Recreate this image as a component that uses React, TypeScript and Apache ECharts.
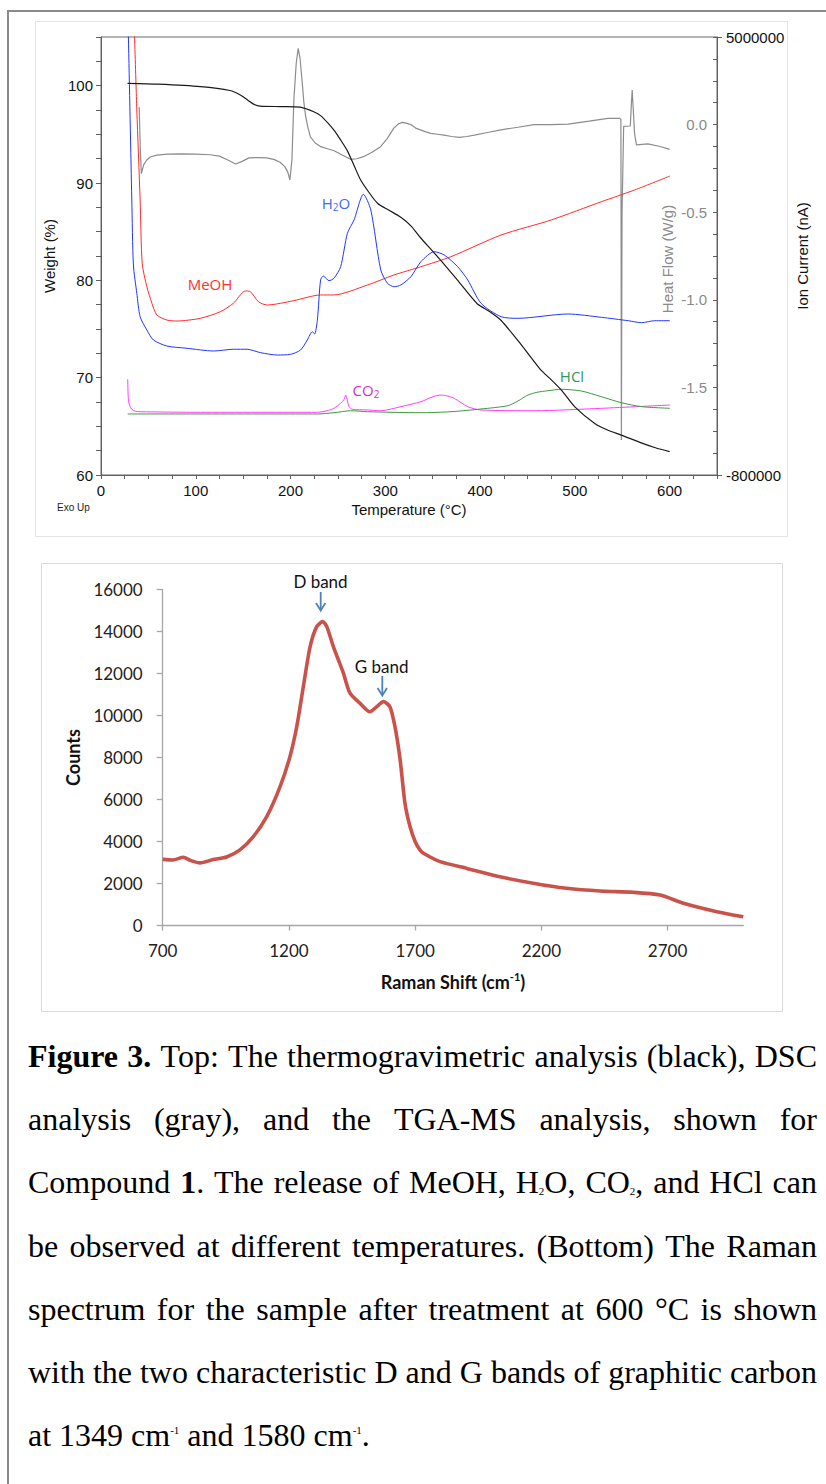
import React, { useEffect, useRef } from 'react';
import * as echarts from 'echarts';

// ---------- TGA / DSC / MS data (top panel) ----------
const tgaTemp = [28, 60, 105, 136, 147, 155, 161, 168, 190, 210, 225, 232, 240, 246, 253, 260, 267, 274, 283, 292, 304, 316, 327, 337, 348, 359, 378, 397, 410, 422, 440, 452, 464, 476, 486, 500, 521, 535, 549, 570, 585, 600];
const tgaWeight = [100.24, 100.15, 99.9, 99.5, 99.05, 98.5, 98.1, 97.9, 97.85, 97.8, 97.3, 96.9, 96.1, 95.4, 94.4, 93.3, 91.8, 90.3, 89.0, 87.9, 87.2, 86.5, 85.6, 84.4, 83.2, 82.0, 79.8, 77.6, 76.8, 75.9, 73.8, 72.3, 70.8, 69.7, 68.7, 67.0, 65.3, 64.6, 64.1, 63.3, 62.8, 62.4];

const dscTemp = [40.3, 41.5, 42.6, 45, 48.3, 52, 59, 70, 85, 100, 115, 125, 135, 142, 149, 156, 166, 175, 183, 189, 194, 197, 199.3, 201.5, 203.5, 206, 208.1, 210, 212.4, 214, 216, 218.5, 221, 226, 232, 239, 246, 255, 263.5, 270, 277, 286, 295, 302, 309, 314, 318, 322, 327, 332, 337, 342, 348, 355, 362, 370, 378, 386, 394, 408, 422, 440, 457, 475, 493, 515, 535, 547, 548.6, 549.1, 549.8, 551.5, 558.5, 559.5, 560.5, 561.5, 563, 565, 577, 590, 600];
const dscFlow = [0.10, -0.15, -0.28, -0.23, -0.202, -0.185, -0.174, -0.168, -0.167, -0.168, -0.172, -0.18, -0.205, -0.225, -0.21, -0.19, -0.188, -0.19, -0.2, -0.215, -0.24, -0.27, -0.316, -0.2, 0.14, 0.35, 0.435, 0.38, 0.236, 0.13, 0.045, -0.02, -0.07, -0.105, -0.126, -0.138, -0.149, -0.175, -0.198, -0.195, -0.183, -0.158, -0.126, -0.08, -0.02, 0.005, 0.013, 0.008, 0.0, -0.02, -0.03, -0.04, -0.05, -0.055, -0.06, -0.068, -0.073, -0.068, -0.06, -0.045, -0.03, -0.015, 0.0, 0.0, 0.003, 0.02, 0.036, 0.036, 0.03, -1.8, -0.5, -0.01, -0.008, 0.1, 0.197, 0.1, -0.05, -0.116, -0.11, -0.125, -0.141];

const meohTemp = [34, 37.8, 41.3, 43.5, 48.4, 53.7, 58.9, 69.5, 80.1, 104.8, 125.9, 139.7, 152.4, 157.7, 166.1, 175.3, 203.2, 231.7, 245.5, 281.2, 309, 337.6, 369.3, 422.2, 475.1, 528, 563, 600.3];
const meohIon = [5600000, 4033000, 2842000, 2000000, 1693000, 1474000, 1319000, 1252000, 1239000, 1275000, 1362000, 1474000, 1637000, 1627000, 1495000, 1451000, 1508000, 1584000, 1584000, 1716000, 1848000, 1958000, 2091000, 2378000, 2577000, 2819000, 2974000, 3159000];

const waterTemp = [27.5, 28.9, 32.5, 34.2, 37.8, 41.3, 48.4, 55.3, 69.5, 90.7, 118.8, 140, 154.2, 168.3, 185.9, 200, 210.6, 217.7, 223, 225.4, 228.3, 231.7, 234.6, 240.5, 245.8, 252.9, 260, 267, 276.9, 284.7, 295.2, 302.3, 309.3, 316.4, 327, 337.6, 351.6, 362.2, 376.4, 387, 401, 422.2, 440, 492.8, 528, 556.3, 570.4, 584.4, 600.3];
const waterIon = [5600000, 5004000, 2842000, 1981000, 1606000, 1296000, 1120000, 988000, 908000, 878000, 842000, 865000, 865000, 820000, 789000, 798000, 855000, 988000, 1098000, 1067000, 1252000, 1782000, 1835000, 1773000, 1805000, 1958000, 2401000, 2577000, 2917000, 2709000, 1915000, 1738000, 1693000, 1716000, 1826000, 2025000, 2157000, 2113000, 1958000, 1782000, 1474000, 1296000, 1275000, 1332000, 1288000, 1243000, 1217000, 1243000, 1243000];

const co2Temp = [28.2, 28.9, 30.5, 32.5, 36, 41.3, 104.8, 228.3, 240, 245.8, 252.9, 256.5, 258.2, 261.7, 265.3, 280, 295.2, 316.4, 337.6, 350, 358.7, 366, 372.8, 387, 401, 457.5, 528, 600.3];
const co2Ion = [467000, 193000, 110000, 70000, 45000, 38000, 30000, 30000, 55000, 83000, 149000, 200000, 259000, 105000, 70000, 62000, 51000, 105000, 171000, 235000, 259000, 245000, 215000, 105000, 61000, 51000, 83000, 127000];

const hclTemp = [28.2, 228.3, 245.8, 263.5, 281.2, 337.6, 369.3, 401, 429.3, 440, 450.5, 460, 471.6, 485.7, 506.9, 528, 549.2, 570.4, 600.3];
const hclIon = [8000, 8000, 25000, 51000, 38000, 25000, 38000, 74000, 118000, 180000, 259000, 295000, 316000, 335000, 312000, 237000, 157000, 105000, 83000];

const tempLabels = [0, 100, 200, 300, 400, 500, 600];
const weightLabels = [60, 70, 80, 90, 100];
const heatFlowLabels = [0, -0.5, -1, -1.5];
const ionLabels = [-800000, 5000000];

// ---------- Raman data (bottom panel) ----------
const ramanShift = [700, 740, 782, 810, 848, 900, 953, 1006, 1059, 1112, 1165, 1204, 1231, 1257, 1284, 1310, 1334, 1350, 1376, 1416, 1442, 1482, 1521, 1548, 1574, 1600, 1620, 1640, 1660, 1680, 1700, 1719, 1733, 1799, 1905, 2036, 2168, 2300, 2432, 2564, 2670, 2763, 2895, 3000];
const ramanCounts = [3150, 3120, 3250, 3100, 2980, 3140, 3260, 3600, 4230, 5180, 6610, 8040, 9470, 11370, 13280, 14230, 14470, 14230, 13280, 12010, 11060, 10580, 10180, 10420, 10660, 10420, 9470, 7950, 5800, 4700, 4000, 3600, 3440, 3040, 2720, 2320, 2010, 1770, 1640, 1580, 1450, 1060, 660, 420];
const ramanShiftLabels = [700, 1200, 1700, 2200, 2700];

// ---------- caption ----------
const captionLines = [
  '{b:Figure} {b:3.} Top: The thermogravimetric analysis (black), DSC',
  'analysis (gray), and the TGA-MS analysis, shown for',
  'Compound {b:1}. The release of MeOH, H{sub:2}O, CO{sub:2}, and HCl can',
  'be observed at different temperatures. (Bottom) The Raman',
  'spectrum for the sample after treatment at 600 °C is shown',
  'with the two characteristic D and G bands of graphitic carbon',
  'at 1349 cm{sup:-1} and 1580 cm{sup:-1}.',
];

const zip = (a: number[], b: number[]) => a.map((v, i) => [v, b[i]]);
const steps = (a: number, b: number, s: number) => {
  const out: number[] = [];
  for (let v = a; v <= b + 1e-9; v += s) out.push(Math.round(v * 10000) / 10000);
  return out;
};

function buildCaption(): any[] {
  const canvas = document.createElement('canvas');
  const ctx = canvas.getContext('2d')!;
  const family = '"Liberation Serif"';
  const spec: Record<string, { size: number; weight: string; dy: number }> = {
    r: { size: 32, weight: 'normal', dy: 0 },
    b: { size: 32, weight: 'bold', dy: 0 },
    sub: { size: 11, weight: 'normal', dy: 9 },
    sup: { size: 11, weight: 'normal', dy: -5 },
  };
  const measure = (t: string, k: string) => {
    ctx.font = `${spec[k].weight} ${spec[k].size}px ${family}`;
    return ctx.measureText(t).width;
  };
  const parseWord = (w: string) => {
    const segs: { t: string; k: string }[] = [];
    const re = /\{(b|sub|sup):([^}]*)\}|([^{]+)/g;
    let m: RegExpExecArray | null;
    while ((m = re.exec(w))) {
      if (m[1]) segs.push({ t: m[2], k: m[1] });
      else segs.push({ t: m[3], k: 'r' });
    }
    return segs;
  };
  const left = 28;
  const right = 817;
  const els: any[] = [];
  captionLines.forEach((line, li) => {
    const words = line.split(' ').map(parseWord);
    const widths = words.map((segs) => segs.reduce((s, g) => s + measure(g.t, g.k), 0));
    const total = widths.reduce((a, b) => a + b, 0);
    const last = li === captionLines.length - 1;
    const gap = last ? measure(' ', 'r') : (right - left - total) / (words.length - 1);
    const yMid = 1056 + li * 63.2;
    let x = left;
    words.forEach((segs, wi) => {
      let sx = x;
      segs.forEach((g) => {
        const sp = spec[g.k];
        els.push({
          type: 'text',
          x: sx,
          y: yMid + sp.dy,
          silent: true,
          style: {
            text: g.t,
            fontFamily: 'Liberation Serif',
            fontSize: sp.size,
            fontWeight: sp.weight,
            fill: '#000',
            align: 'left',
            verticalAlign: 'middle',
          },
        });
        sx += measure(g.t, g.k);
      });
      x += widths[wi] + gap;
    });
  });
  return els;
}

function buildOption(): any {
  const tgaAxis = '#5f5f5f';
  const sans = 'Liberation Sans';
  const xlGray = '#a6a6a6';
  const lab = { fontSize: 15, fontFamily: sans, color: '#111' };
  const ramanLab = { fontSize: 17, fontFamily: 'Lato', color: '#222' };

  const graphic: any[] = [
    { type: 'rect', silent: true, shape: { x: 8, y: 11, width: 840, height: 1500 }, style: { fill: 'none', stroke: '#8a8a8a', lineWidth: 2 } },
    { type: 'rect', silent: true, shape: { x: 35.5, y: 21.5, width: 752, height: 515 }, style: { fill: 'none', stroke: '#e4e4e4', lineWidth: 1 } },
    { type: 'rect', silent: true, shape: { x: 41.5, y: 563.5, width: 741, height: 448 }, style: { fill: 'none', stroke: '#d9d9d9', lineWidth: 1 } },
    { type: 'text', x: 210, y: 284, style: { text: 'MeOH', fontFamily: 'Open Sans', fontSize: 15, fill: '#ff3030', align: 'center', verticalAlign: 'middle' } },
    {
      type: 'text', x: 336, y: 203,
      style: {
        text: '{a|H}{s|2}{a|O}', align: 'center', verticalAlign: 'middle', fill: '#3a6bff',
        rich: { a: { fontFamily: 'Open Sans', fontSize: 15, lineHeight: 18, fill: '#3a6bff' }, s: { fontFamily: 'Open Sans', fontSize: 10, lineHeight: 9, verticalAlign: 'bottom', fill: '#3a6bff' } },
      },
    },
    {
      type: 'text', x: 366, y: 390,
      style: {
        text: '{a|CO}{s|2}', align: 'center', verticalAlign: 'middle', fill: '#d030d0',
        rich: { a: { fontFamily: 'Open Sans', fontSize: 15, lineHeight: 18, fill: '#d030d0' }, s: { fontFamily: 'Open Sans', fontSize: 10, lineHeight: 9, verticalAlign: 'bottom', fill: '#d030d0' } },
      },
    },
    { type: 'text', x: 572, y: 376, style: { text: 'HCl', fontFamily: 'Open Sans', fontSize: 15, fill: '#2e9a5c', align: 'center', verticalAlign: 'middle' } },
    { type: 'text', x: 57, y: 507, style: { text: 'Exo Up', fontFamily: sans, fontSize: 10, fill: '#222', align: 'left', verticalAlign: 'middle' } },
    { type: 'text', x: 667, y: 259, rotation: Math.PI / 2, style: { text: 'Heat Flow (W/g)', fontFamily: sans, fontSize: 15, fill: '#8a8a8a', align: 'center', verticalAlign: 'middle' } },
    { type: 'text', x: 320.5, y: 581, style: { text: 'D band', ...ramanLab, fill: '#111', align: 'center', verticalAlign: 'middle' } },
    { type: 'line', shape: { x1: 320.7, y1: 592, x2: 320.7, y2: 610 }, style: { stroke: '#4f81bd', lineWidth: 1.8 } },
    { type: 'polyline', shape: { points: [[316, 603], [320.7, 610.5], [325.4, 603]] }, style: { stroke: '#4f81bd', lineWidth: 1.8, fill: 'none' } },
    { type: 'text', x: 381.7, y: 666, style: { text: 'G band', ...ramanLab, fill: '#111', align: 'center', verticalAlign: 'middle' } },
    { type: 'line', shape: { x1: 382.3, y1: 676, x2: 382.3, y2: 695 }, style: { stroke: '#4f81bd', lineWidth: 1.8 } },
    { type: 'polyline', shape: { points: [[377.6, 688], [382.3, 695.5], [387, 688]] }, style: { stroke: '#4f81bd', lineWidth: 1.8, fill: 'none' } },
    ...buildCaption(),
  ];

  const line = (name: string, data: number[][], color: string, width: number, xi: number, yi: number, smooth: number | boolean, z = 2) => ({
    type: 'line', name, data, xAxisIndex: xi, yAxisIndex: yi, showSymbol: false, symbol: 'none',
    smooth,
    lineStyle: { color, width }, itemStyle: { color }, z, clip: true, silent: true,
  });

  return {
    animation: false,
    backgroundColor: '#ffffff',
    grid: [
      { left: 101, top: 37, width: 616, height: 438, show: true, borderColor: '#6a6a6a', borderWidth: 1, backgroundColor: 'transparent' },
      { left: 162.7, top: 589.5, width: 580.6, height: 336 },
    ],
    xAxis: [
      {
        gridIndex: 0, type: 'value', min: 0, max: 650,
        axisLine: { show: true, onZero: false, lineStyle: { color: tgaAxis } },
        axisTick: { show: true, customValues: steps(0, 650, 25), length: 4, lineStyle: { color: tgaAxis } },
        axisLabel: { customValues: tempLabels, margin: 8, ...lab, formatter: (v: number) => String(v) },
        splitLine: { show: false },
        name: 'Temperature (°C)', nameLocation: 'middle', nameGap: 27, nameTextStyle: { ...lab },
      },
      {
        gridIndex: 1, type: 'value', min: 700, max: 3000,
        axisLine: { show: true, onZero: false, lineStyle: { color: xlGray, width: 1.3 } },
        axisTick: { show: true, customValues: ramanShiftLabels, length: 5, lineStyle: { color: xlGray, width: 1.3 } },
        axisLabel: { customValues: ramanShiftLabels, margin: 16, ...ramanLab, formatter: (v: number) => String(v) },
        splitLine: { show: false },
        name: 'Raman Shift (cm{sup|-1})', nameLocation: 'middle', nameGap: 45,
        nameTextStyle: {
          fontFamily: 'Lato', fontWeight: 'bold', fontSize: 18, color: '#111', lineHeight: 22,
          rich: { sup: { fontFamily: 'Lato', fontWeight: 'bold', fontSize: 11, lineHeight: 11, verticalAlign: 'top', color: '#111' } },
        },
      },
    ],
    yAxis: [
      {
        gridIndex: 0, type: 'value', position: 'left', min: 60, max: 105,
        axisLine: { show: true, onZero: false, lineStyle: { color: tgaAxis } },
        axisTick: { show: true, customValues: steps(60, 105, 2.5), length: 5, lineStyle: { color: tgaAxis } },
        axisLabel: { customValues: weightLabels, margin: 8, ...lab, formatter: (v: number) => String(v) },
        splitLine: { show: false },
        name: 'Weight (%)', nameLocation: 'middle', nameRotate: 90, nameGap: 41, nameTextStyle: { ...lab },
      },
      {
        gridIndex: 0, type: 'value', position: 'right', min: -2, max: 0.5,
        axisLine: { show: true, onZero: false, lineStyle: { color: tgaAxis } },
        axisTick: { show: true, inside: true, customValues: steps(-2, 0.5, 0.125), length: 4, lineStyle: { color: tgaAxis } },
        axisLabel: { inside: true, customValues: heatFlowLabels, margin: 10, fontSize: 15, fontFamily: sans, color: '#8a8a8a', formatter: (v: number) => v.toFixed(1) },
        splitLine: { show: false },
      },
      {
        gridIndex: 0, type: 'value', position: 'right', min: -800000, max: 5000000,
        axisLine: { show: false, onZero: false },
        axisTick: { show: true, customValues: ionLabels, length: 5, lineStyle: { color: tgaAxis } },
        axisLabel: { customValues: ionLabels, margin: 9, ...lab, formatter: (v: number) => String(v) },
        splitLine: { show: false },
        name: 'Ion Current (nA)', nameLocation: 'middle', nameRotate: 90, nameGap: 50, nameTextStyle: { ...lab },
      },
      {
        gridIndex: 1, type: 'value', min: 0, max: 16000, interval: 2000,
        axisLine: { show: true, onZero: false, lineStyle: { color: xlGray, width: 1.3 } },
        axisTick: { show: true, length: 6, lineStyle: { color: xlGray, width: 1.3 } },
        axisLabel: { margin: 20, ...ramanLab, formatter: (v: number) => String(v) },
        splitLine: { show: false },
        name: 'Counts', nameLocation: 'middle', nameRotate: 90, nameGap: 74,
        nameTextStyle: { fontFamily: 'Lato', fontWeight: 'bold', fontSize: 18, color: '#111' },
      },
    ],
    series: [
      line('DSC', zip(dscTemp, dscFlow), '#8c8c8c', 1.2, 0, 1, false),
      line('MeOH', zip(meohTemp, meohIon), '#ff2b2b', 1, 0, 2, 0.25),
      line('H2O', zip(waterTemp, waterIon), '#2236ff', 1, 0, 2, 0.25),
      line('CO2', zip(co2Temp, co2Ion), '#ff3cff', 1, 0, 2, 0.25),
      line('HCl', zip(hclTemp, hclIon), '#3c9a3c', 1, 0, 2, 0.25),
      line('TGA', zip(tgaTemp, tgaWeight), '#1a1a1a', 1.2, 0, 0, 0.25, 4),
      line('Raman', zip(ramanShift, ramanCounts), '#c9534b', 3.6, 1, 3, 0.25),
    ],
    graphic,
  };
}

export default function App() {
  const ref = useRef<HTMLDivElement>(null);
  useEffect(() => {
    const chart = echarts.init(ref.current!, null, { renderer: 'svg', width: 826, height: 1484 });
    chart.setOption(buildOption());
    return () => chart.dispose();
  }, []);
  return (
    <div
      ref={ref}
      style={{ position: 'absolute', left: 0, top: 0, width: 826, height: 1484, background: '#fff' }}
    />
  );
}
